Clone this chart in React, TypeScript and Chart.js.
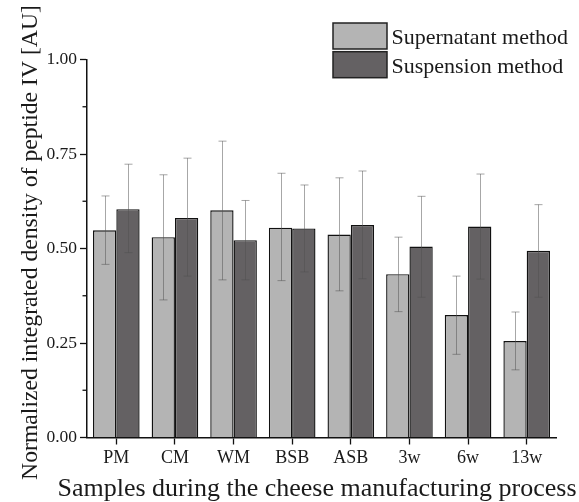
import React, { useEffect, useRef } from 'react';
import { Chart, registerables } from 'chart.js';

Chart.register(...registerables);

const categories = ['PM', 'CM', 'WM', 'BSB', 'ASB', '3w', '6w', '13w'];
const seriesNames = ['Supernatant method', 'Suspension method'];
const supernatant = [0.548, 0.530, 0.601, 0.555, 0.537, 0.432, 0.324, 0.255];
const suspension = [0.604, 0.581, 0.522, 0.553, 0.562, 0.505, 0.558, 0.494];
const supernatantHigh = [0.639, 0.695, 0.784, 0.699, 0.687, 0.530, 0.427, 0.332];
const supernatantLow = [0.458, 0.364, 0.417, 0.415, 0.388, 0.333, 0.220, 0.179];
const suspensionHigh = [0.723, 0.739, 0.627, 0.668, 0.705, 0.638, 0.697, 0.616];
const suspensionLow = [0.489, 0.427, 0.417, 0.438, 0.420, 0.371, 0.419, 0.371];
const majorTicks = [0, 0.25, 0.5, 0.75, 1.0];
const minorTicks = [0.125, 0.375, 0.625, 0.875];
const xTitle = 'Samples during the cheese manufacturing process';
const yTitle = 'Normalized integrated density of peptide IV [AU]';

const FONT = '"Liberation Serif", "Times New Roman", serif';
const TEXT = '#1a1a1a';
const LIGHT = '#b4b4b4';
const DARK = '#646163';

const highs = [supernatantHigh, suspensionHigh];
const lows = [supernatantLow, suspensionLow];

export default function App() {
  const ref = useRef<HTMLCanvasElement>(null);

  useEffect(() => {
    if (!ref.current) return;

    const errorBars = {
      id: 'errorBars',
      afterDatasetsDraw(chart: any) {
        const ctx = chart.ctx;
        const y = chart.scales.y;
        ctx.save();
        ctx.strokeStyle = 'rgba(80,80,80,0.5)';
        ctx.lineWidth = 1;
        chart.data.datasets.forEach((_ds: any, i: number) => {
          const meta = chart.getDatasetMeta(i);
          meta.data.forEach((bar: any, j: number) => {
            const x = Math.round(bar.x) + 0.5;
            const yh = y.getPixelForValue(highs[i][j]);
            const yl = y.getPixelForValue(lows[i][j]);
            const cap = 4;
            ctx.beginPath();
            ctx.moveTo(x, yh);
            ctx.lineTo(x, yl);
            ctx.moveTo(x - cap, yh);
            ctx.lineTo(x + cap, yh);
            ctx.moveTo(x - cap, yl);
            ctx.lineTo(x + cap, yl);
            ctx.stroke();
          });
        });
        ctx.restore();
      },
    };

    const decorations = {
      id: 'decorations',
      afterDraw(chart: any) {
        const ctx = chart.ctx;
        const y = chart.scales.y;
        const x0 = chart.chartArea.left;
        ctx.save();
        // minor y ticks
        ctx.strokeStyle = '#111';
        ctx.lineWidth = 1.3;
        minorTicks.forEach((v) => {
          const py = y.getPixelForValue(v);
          ctx.beginPath();
          ctx.moveTo(x0 - 4.5, py);
          ctx.lineTo(x0, py);
          ctx.stroke();
        });
        // axis titles
        ctx.fillStyle = TEXT;
        ctx.textAlign = 'center';
        ctx.textBaseline = 'alphabetic';
        ctx.font = `26px ${FONT}`;
        ctx.fillText(xTitle, 317, 496);
        ctx.save();
        ctx.translate(37, 242.5);
        ctx.rotate(-Math.PI / 2);
        ctx.font = `23.7px ${FONT}`;
        ctx.fillText(yTitle, 0, 0);
        ctx.restore();
        // legend
        ctx.font = `22px ${FONT}`;
        ctx.textAlign = 'left';
        chart.data.datasets.forEach((ds: any, i: number) => {
          const top = 23 + i * 28.7;
          ctx.fillStyle = ds.backgroundColor;
          ctx.fillRect(333, top, 54, 26);
          ctx.strokeStyle = '#222';
          ctx.lineWidth = 1.5;
          ctx.strokeRect(333, top, 54, 26);
          ctx.fillStyle = TEXT;
          ctx.fillText(ds.label, 391.5, top + 21);
        });
        ctx.restore();
      },
    };

    const chart = new Chart(ref.current, {
      type: 'bar',
      data: {
        labels: categories,
        datasets: [
          {
            label: seriesNames[0],
            data: supernatant,
            backgroundColor: LIGHT,
            borderColor: '#111',
            borderWidth: 1.4,
            barPercentage: 1,
            categoryPercentage: 0.795,
          },
          {
            label: seriesNames[1],
            data: suspension,
            backgroundColor: DARK,
            borderColor: '#111',
            borderWidth: 1.4,
            barPercentage: 1,
            categoryPercentage: 0.795,
          },
        ],
      },
      options: {
        responsive: false,
        animation: false,
        devicePixelRatio: 1,
        layout: { padding: { top: 59.5, right: 23, left: 0, bottom: 0 } },
        plugins: {
          legend: { display: false },
          tooltip: { enabled: false },
        },
        scales: {
          x: {
            offset: true,
            grid: {
              offset: false,
              drawOnChartArea: false,
              drawTicks: true,
              tickLength: 7,
              tickWidth: 1.3,
              color: '#111',
            },
            border: { display: true, color: '#111', width: 1.5 },
            ticks: {
              color: TEXT,
              font: { family: FONT, size: 18 },
              padding: 3,
              maxRotation: 0,
              autoSkip: false,
            },
            afterFit: (scale: any) => {
              scale.height = 64.5;
            },
          },
          y: {
            min: 0,
            max: 1,
            grid: {
              drawOnChartArea: false,
              drawTicks: true,
              tickLength: 7,
              tickWidth: 1.3,
              color: (c: any) =>
                majorTicks.some((m) => Math.abs(m - c.tick.value) < 1e-6) ? '#111' : 'rgba(0,0,0,0)',
            },
            border: { display: true, color: '#111', width: 1.5 },
            ticks: {
              stepSize: 0.125,
              autoSkip: false,
              color: TEXT,
              font: { family: FONT, size: 17.5 },
              padding: 3,
              callback: (v: any) =>
                majorTicks.some((m) => Math.abs(m - Number(v)) < 1e-6) ? Number(v).toFixed(2) : '',
            },
            afterFit: (scale: any) => {
              scale.width = 87;
            },
          },
        },
      },
      plugins: [errorBars, decorations],
    } as any);

    return () => chart.destroy();
  }, []);

  return (
    <div style={{ position: 'fixed', left: 0, top: 0, width: 579, height: 502, background: '#fff' }}>
      <canvas ref={ref} width={579} height={502} style={{ display: 'block', width: 579, height: 502 }} />
    </div>
  );
}
